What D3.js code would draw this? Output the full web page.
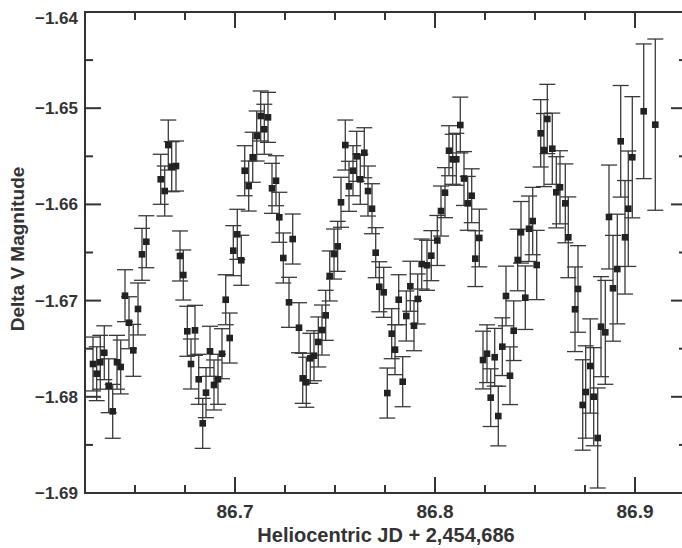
<!DOCTYPE html>
<html lang="en">
	<head>
		<title>Delta V magnitude light curve</title>
		<meta charset="utf-8">
		<style>
			body {
				margin: 0;
				background: #fff;
				font-family: "Liberation Sans", Arial, Helvetica, sans-serif;
			}

			.chart text {
				font-weight: bold;
				fill: #333;
			}

			.chart .frame {
				fill: none;
				stroke: #333;
				stroke-width: 2;
			}

			.chart .tick {
				stroke: #333;
				stroke-width: 2;
			}

			.chart .err {
				stroke: #3a3a3a;
				stroke-width: 1.3;
			}

			.chart .pt {
				fill: #222;
			}
		</style>
	</head>

	<body>

		<div class="graph"></div>

		<script src="https://d3js.org/d3.v7.min.js"></script>

		<script>

			// Heliocentric JD (+ 2,454,686)
			var jd = [
				86.6290, 86.63085, 86.63265, 86.63465, 86.63685, 86.63885, 86.6410, 86.64285, 86.6450, 86.6470,
				86.64915, 86.6515, 86.6535, 86.65565, 86.66285, 86.66485, 86.66665, 86.66835, 86.6705, 86.6725,
				86.67415, 86.67615, 86.6780, 86.6800, 86.68185, 86.68385, 86.6855, 86.6875, 86.6895, 86.6915,
				86.6935, 86.69535, 86.69735, 86.69915, 86.70115, 86.70315, 86.70485, 86.70685, 86.70885, 86.71085,
				86.71285, 86.71465, 86.7165, 86.7185, 86.7205, 86.72215, 86.72415, 86.7270, 86.72885, 86.7320,
				86.73385, 86.73565, 86.73765, 86.7395, 86.74165, 86.7435, 86.74535, 86.74735, 86.7495, 86.75135,
				86.7530, 86.75515, 86.7570, 86.7590, 86.76085, 86.76265, 86.76465, 86.7665, 86.7685, 86.77035,
				86.77215, 86.77435, 86.77615, 86.77835, 86.7800, 86.78185, 86.78385, 86.78565, 86.78765, 86.7895,
				86.79135, 86.79335, 86.7960, 86.79815, 86.80115, 86.8030, 86.8050, 86.8070, 86.80885, 86.81065,
				86.81265, 86.8145, 86.81635, 86.81835, 86.82015, 86.82215, 86.8240, 86.8260, 86.82785, 86.82985,
				86.83165, 86.83365, 86.8355, 86.8375, 86.83935, 86.84135, 86.8430, 86.84515, 86.8470, 86.84885,
				86.85085, 86.85285, 86.8545, 86.85615, 86.85865, 86.86065, 86.8625, 86.86515, 86.86665, 86.8700,
				86.8715, 86.87385, 86.87535, 86.87765, 86.87935, 86.88135, 86.8830, 86.88515, 86.8870, 86.8890,
				86.89115, 86.89285, 86.8950, 86.89665, 86.89865, 86.90435, 86.91015
			];

			// Delta V magnitude
			var mag = [
				-1.67659, -1.67760, -1.67641, -1.67542, -1.67885, -1.68151, -1.67641, -1.67690, -1.66949, -1.67230,
				-1.67517, -1.67087, -1.66519, -1.66388, -1.65739, -1.65861, -1.65383, -1.65608, -1.65601, -1.66536,
				-1.66734, -1.67319, -1.67659, -1.67309, -1.67818, -1.68276, -1.67957, -1.67527, -1.67877, -1.67818,
				-1.67552, -1.66991, -1.67389, -1.66481, -1.66311, -1.66581, -1.65650, -1.65809, -1.65510, -1.65289,
				-1.65081, -1.65219, -1.65095, -1.65833, -1.65754, -1.66134, -1.66557, -1.67018, -1.66360, -1.67282,
				-1.67808, -1.67849, -1.67600, -1.67573, -1.67430, -1.67306, -1.67153, -1.66744, -1.66516, -1.66436,
				-1.65978, -1.65383, -1.65812, -1.65650, -1.65500, -1.65739, -1.65463, -1.65861, -1.66045, -1.66502,
				-1.66856, -1.66914, -1.67961, -1.67344, -1.67510, -1.66991, -1.67843, -1.67160, -1.66851, -1.67261,
				-1.66983, -1.66620, -1.66633, -1.66533, -1.66375, -1.66069, -1.65878, -1.65442, -1.65531, -1.65531,
				-1.65175, -1.65731, -1.65989, -1.65910, -1.66564, -1.66349, -1.67618, -1.67552, -1.68009, -1.67589,
				-1.68200, -1.67479, -1.66952, -1.67781, -1.67313, -1.66578, -1.66290, -1.66970, -1.66253, -1.66173,
				-1.66630, -1.65261, -1.65435, -1.65112, -1.65421, -1.65874, -1.65822, -1.65989, -1.66342, -1.67090,
				-1.66879, -1.68085, -1.67950, -1.67680, -1.67999, -1.68428, -1.67271, -1.67330, -1.66131, -1.66872,
				-1.66672, -1.65344, -1.66342, -1.66045, -1.65510, -1.65032, -1.65171
			];

			// 1-sigma error (magnitudes)
			var err = [
				0.0028, 0.0028, 0.0028, 0.0028, 0.0028, 0.0028, 0.0028, 0.0028, 0.0027, 0.0027,
				0.0027, 0.0027, 0.0027, 0.0027, 0.0026, 0.0026, 0.0026, 0.0026, 0.0026, 0.0026,
				0.0026, 0.0026, 0.0026, 0.0026, 0.0026, 0.0026, 0.0026, 0.0026, 0.0026, 0.0026,
				0.0026, 0.0026, 0.0026, 0.0026, 0.0026, 0.0026, 0.0026, 0.0026, 0.0026, 0.0026,
				0.0026, 0.0026, 0.0026, 0.0026, 0.0026, 0.0026, 0.0026, 0.0026, 0.0026, 0.0026,
				0.0026, 0.0026, 0.0026, 0.0026, 0.0026, 0.0026, 0.0026, 0.0026, 0.0026, 0.0026,
				0.0026, 0.0026, 0.0026, 0.0026, 0.0026, 0.0026, 0.0026, 0.0026, 0.0026, 0.0026,
				0.0026, 0.0026, 0.0026, 0.0026, 0.0026, 0.0026, 0.0026, 0.0026, 0.0026, 0.0026,
				0.0026, 0.0026, 0.0026, 0.0026, 0.0026, 0.0026, 0.0026, 0.0026, 0.0026, 0.0027,
				0.0029, 0.0028, 0.0028, 0.0028, 0.0029, 0.0030, 0.0030, 0.0030, 0.0030, 0.0030,
				0.0031, 0.0030, 0.0031, 0.0030, 0.0031, 0.0032, 0.0032, 0.0033, 0.0034, 0.0035,
				0.0036, 0.0035, 0.0038, 0.0036, 0.0037, 0.0037, 0.0038, 0.0041, 0.0042, 0.0044,
				0.0045, 0.0047, 0.0048, 0.0049, 0.0051, 0.0052, 0.0052, 0.0054, 0.0054, 0.0055,
				0.0057, 0.0058, 0.0059, 0.0060, 0.0063, 0.0070, 0.0089
			];

			var xLabelTicks = [86.7, 86.8, 86.9];
			var xMinorTicks = [86.65, 86.675, 86.725, 86.75, 86.775, 86.825, 86.85, 86.875];
			var yLabelTicks = [-1.64, -1.65, -1.66, -1.67, -1.68, -1.69];
			var yMinorTicks = [-1.645, -1.655, -1.665, -1.675, -1.685];

			var xTitle = "Heliocentric JD + 2,454,686";
			var yTitle = "Delta V Magnitude";

			var W = 682, H = 548;
			var mLeft = 85, mRight = 687, mTop = 12, mBottom = 493;

			var x = d3.scaleLinear()
				.domain([86.625, 86.926])
				.range([mLeft, mRight]);

			var y = d3.scaleLinear()
				.domain([-1.64, -1.69])
				.range([mTop, mBottom]);

			var svg = d3.select(".graph").append("svg")
				.attr("class", "chart")
				.attr("width", W)
				.attr("height", H);

			// error bars first, markers on top
			var bars = svg.append("g");
			var capW = 8;

			jd.forEach(function(t, i) {
				var cx = x(t), y0 = y(mag[i] + err[i]), y1 = y(mag[i] - err[i]);
				bars.append("line").attr("class", "err")
					.attr("x1", cx).attr("x2", cx).attr("y1", y0).attr("y2", y1);
				bars.append("line").attr("class", "err")
					.attr("x1", cx - capW).attr("x2", cx + capW).attr("y1", y0).attr("y2", y0);
				bars.append("line").attr("class", "err")
					.attr("x1", cx - capW).attr("x2", cx + capW).attr("y1", y1).attr("y2", y1);
			});

			svg.append("g").selectAll("rect")
				.data(jd)
				.join("rect")
				.attr("class", "pt")
				.attr("x", function(d) { return x(d) - 3.3; })
				.attr("y", function(d, i) { return y(mag[i]) - 3.3; })
				.attr("width", 6.6)
				.attr("height", 6.6);

			// frame
			svg.append("rect")
				.attr("class", "frame")
				.attr("x", mLeft).attr("y", mTop)
				.attr("width", mRight - mLeft).attr("height", mBottom - mTop);

			// inward ticks on all four sides
			var ticks = svg.append("g");
			function hTick(v, len) {
				ticks.append("line").attr("class", "tick")
					.attr("x1", x(v)).attr("x2", x(v)).attr("y1", mBottom).attr("y2", mBottom - len);
				ticks.append("line").attr("class", "tick")
					.attr("x1", x(v)).attr("x2", x(v)).attr("y1", mTop).attr("y2", mTop + len);
			}
			function vTick(v, len) {
				ticks.append("line").attr("class", "tick")
					.attr("x1", mLeft).attr("x2", mLeft + len).attr("y1", y(v)).attr("y2", y(v));
				ticks.append("line").attr("class", "tick")
					.attr("x1", mRight).attr("x2", mRight - len).attr("y1", y(v)).attr("y2", y(v));
			}
			xLabelTicks.forEach(function(v) { hTick(v, 16); });
			xMinorTicks.forEach(function(v) { hTick(v, 8); });
			yLabelTicks.forEach(function(v) { vTick(v, 16); });
			yMinorTicks.forEach(function(v) { vTick(v, 8); });

			// tick labels
			svg.append("g").selectAll("text")
				.data(xLabelTicks)
				.join("text")
				.attr("x", function(d) { return x(d); })
				.attr("y", mBottom + 25)
				.attr("text-anchor", "middle")
				.style("font-size", "19px")
				.text(function(d) { return d3.format(".1f")(d); });

			svg.append("g").selectAll("text")
				.data(yLabelTicks)
				.join("text")
				.attr("x", mLeft - 7)
				.attr("y", function(d, i) { return y(d) + (i == 0 ? 6 : 0); })
				.attr("dy", "0.35em")
				.attr("text-anchor", "end")
				.style("font-size", "17px")
				.text(function(d) { return d3.format(".2f")(d); });

			// axis titles
			svg.append("text")
				.attr("x", (mLeft + mRight) / 2)
				.attr("y", 542)
				.attr("text-anchor", "middle")
				.style("font-size", "20px")
				.text(xTitle);

			svg.append("text")
				.attr("transform", "translate(24," + 249 + ") rotate(-90)")
				.attr("text-anchor", "middle")
				.style("font-size", "19px")
				.text(yTitle);

		</script>

	</body>

</html>
